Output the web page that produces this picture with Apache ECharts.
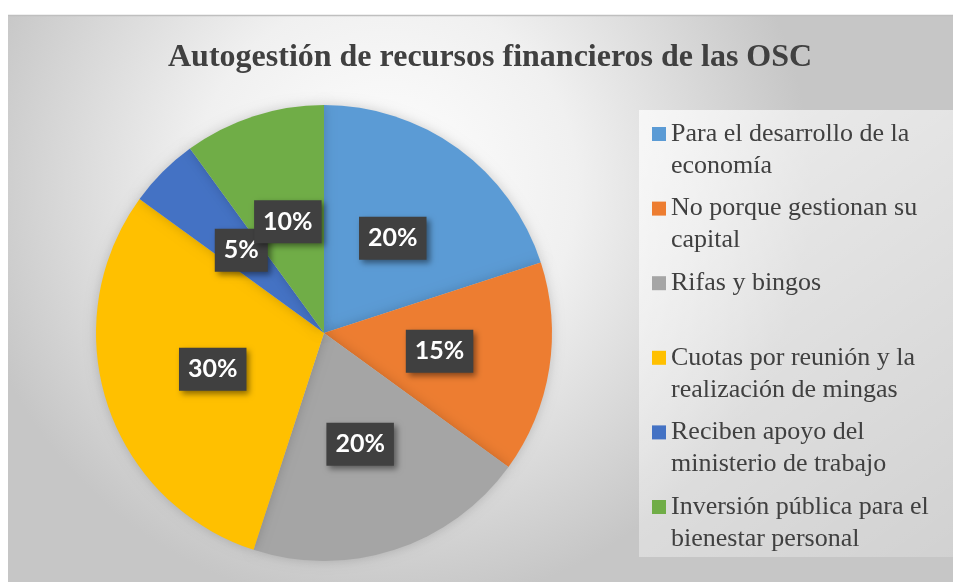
<!DOCTYPE html>
<html>
<head>
<meta charset="utf-8">
<script src="https://cdn.jsdelivr.net/npm/echarts@6/dist/echarts.min.js"></script>
<style>
  html, body { margin: 0; padding: 0; background: #fff; }
</style>
</head>
<body>
<div id="piechart" style="width: 953px; height: 582px;"></div>
<script>
// datos del grafico
var categorias = [
  'Para el desarrollo de la economía',
  'No porque gestionan su capital',
  'Rifas y bingos',
  'Cuotas por reunión y la realización de mingas',
  'Reciben apoyo del ministerio de trabajo',
  'Inversión pública para el bienestar personal'
];
var valores = [20, 15, 20, 30, 5, 10];
// texto de la leyenda, partido en dos lineas como en el original
var etiquetasLeyenda = [
  'Para el desarrollo de la\neconomía',
  'No porque gestionan su\ncapital',
  'Rifas y bingos\n ',
  'Cuotas por reunión y la\nrealización de mingas',
  'Reciben apoyo del\nministerio de trabajo',
  'Inversión pública para el\nbienestar personal'
];
var colores = ['#5B9BD5', '#ED7D31', '#A5A5A5', '#FFC000', '#4472C4', '#70AD47'];

var chart = echarts.init(document.getElementById('piechart'));

var datos = [];
for (let i = 0; i < categorias.length; i++) {
  datos.push({ name: categorias[i], value: valores[i] });
}

var option = {
  color: colores,
  graphic: [
    {
      type: 'rect',
      z: -10,
      silent: true,
      shape: { x: 8, y: 15, width: 945, height: 567 },
      style: {
        fill: new echarts.graphic.RadialGradient(0.4, 0.3, 0.75, [
          { offset: 0, color: '#ffffff' },
          { offset: 0.45, color: '#f0f0f0' },
          { offset: 1, color: '#c6c6c6' }
        ])
      }
    },
    {
      type: 'line',
      z: -9,
      silent: true,
      shape: { x1: 8, y1: 15.5, x2: 953, y2: 15.5 },
      style: { stroke: '#bfbfbf', lineWidth: 1.5 }
    },
    {
      // fondo de la leyenda
      type: 'rect',
      z: -8,
      silent: true,
      shape: { x: 639, y: 110, width: 314, height: 447 },
      style: {
        fill: new echarts.graphic.LinearGradient(0, 0, 1, 1, [
          { offset: 0, color: 'rgba(255,255,255,0.7)' },
          { offset: 1, color: 'rgba(255,255,255,0.2)' }
        ])
      }
    }
  ],
  title: {
    text: 'Autogestión de recursos financieros de las OSC',
    left: 168,
    top: 42,
    padding: 0,
    textStyle: {
      fontFamily: 'Liberation Serif',
      fontWeight: 'bold',
      fontSize: 32,
      color: '#404040'
    }
  },
  legend: {
    orient: 'vertical',
    left: 652,
    top: 86,
    padding: 0,
    itemWidth: 14,
    itemHeight: 14,
    itemGap: -21.4,
    icon: 'rect',
    data: categorias,
    formatter: function (name) {
      // linea en blanco arriba para que el cuadro quede junto a la primera linea
      return ' \n' + etiquetasLeyenda[categorias.indexOf(name)];
    },
    textStyle: {
      fontFamily: 'Liberation Serif',
      fontSize: 26,
      lineHeight: 32,
      color: '#404040'
    }
  },
  series: [
    {
      type: 'pie',
      center: [324, 333],
      radius: 228,
      startAngle: 90,
      clockwise: true,
      silent: true,
      data: datos,
      itemStyle: {
        borderWidth: 0,
        shadowBlur: 12,
        shadowColor: 'rgba(0,0,0,0.18)'
      },
      label: {
        show: true,
        position: 'inside',
        formatter: '{c}%',
        fontFamily: 'Lato',
        fontWeight: 'bold',
        fontSize: 25,
        lineHeight: 24,
        color: '#ffffff',
        backgroundColor: '#404040',
        padding: [10, 9, 9, 9],
        shadowColor: 'rgba(0,0,0,0.45)',
        shadowBlur: 6,
        shadowOffsetX: 3,
        shadowOffsetY: 3
      },
      labelLine: { show: false },
      labelLayout: { hideOverlap: false }
    }
  ]
};

chart.setOption(option);
</script>
</body>
</html>
